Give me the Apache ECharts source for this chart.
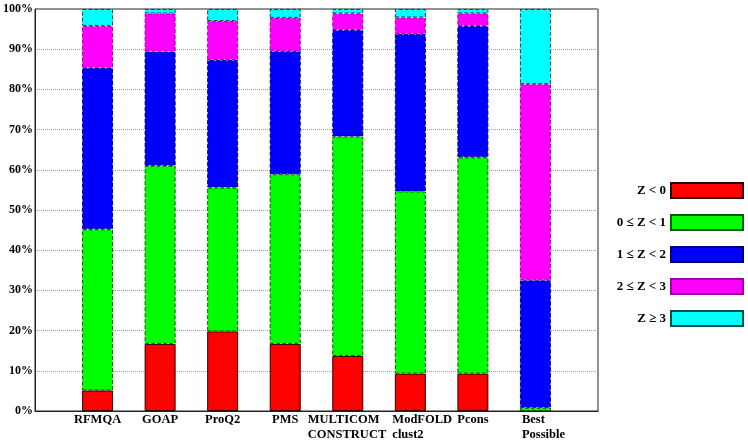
<!DOCTYPE html>
<html><head><meta charset="utf-8">
<script src="https://cdn.jsdelivr.net/npm/echarts@6/dist/echarts.min.js"></script>
<style>html,body{margin:0;padding:0;background:#fff}#c{width:748px;height:442px}</style>
</head><body><div id="c"></div>
<script>
const categories = ['', 'RFMQA', 'GOAP', 'ProQ2', 'PMS', 'MULTICOM\nCONSTRUCT', 'ModFOLD\nclust2', 'Pcons', 'Best\nPossible', ''];
const seriesNames = ['Z < 0', '0 \u2264 Z < 1', '1 \u2264 Z < 2', '2 \u2264 Z < 3', 'Z \u2265 3'];
const zNeg  = [null, 5.1, 16.7, 19.8, 16.7, 13.7, 9.3, 9.3, 0, null];
const z0to1 = [null, 40.1, 44.3, 35.8, 42.2, 54.6, 45.3, 53.8, 0.8, null];
const z1to2 = [null, 40.2, 28.4, 31.7, 30.6, 26.5, 39.2, 32.7, 31.7, null];
const z2to3 = [null, 10.4, 9.5, 9.7, 8.3, 4.1, 4.1, 3.1, 48.8, null];
const z3up  = [null, 4.2, 1.1, 3.0, 2.2, 1.1, 2.1, 1.1, 18.7, null];
const yTicks = [0, 10, 20, 30, 40, 50, 60, 70, 80, 90, 100];

const fills = ['#ff0000', '#00ff00', '#0000ff', '#ff00ff', '#00ffff'];
const borders = ['#300000', '#006000', '#000070', '#a000a0', '#005050'];
const borderTypes = ['solid', 'dashed', 'dashed', 'dashed', 'dashed'];
const allData = [zNeg, z0to1, z1to2, z2to3, z3up];
const font = 'Liberation Serif';

const chart = echarts.init(document.getElementById('c'), null, {renderer: 'canvas'});
chart.setOption({
  animation: false,
  backgroundColor: '#fff',
  grid: {left: 35, right: 150, top: 9, bottom: 31, show: true, borderColor: '#222', borderWidth: 1,
         containLabel: false, outerBoundsMode: 'none'},
  legend: {
    orient: 'vertical', right: 4, top: 182, align: 'right', padding: 0,
    icon: 'rect',
    itemWidth: 72, itemHeight: 15, itemGap: 15,
    textStyle: {fontFamily: font, fontWeight: 'bold', fontSize: 13, color: '#000', lineHeight: 15},
    data: seriesNames
  },
  xAxis: {
    type: 'category', data: categories, boundaryGap: false,
    axisLine: {lineStyle: {color: '#222'}}, axisTick: {show: false},
    axisLabel: {
      interval: 0, margin: 2, color: '#000', fontFamily: font, fontWeight: 'bold', fontSize: 12.5,
      lineHeight: 14.5,
      formatter: function (v) {
        if (v === 'MULTICOM\nCONSTRUCT') return '{m|MULTICOM}\n{m|CONSTRUCT}';
        if (v === 'ModFOLD\nclust2') return '{f|ModFOLD}\n{f|clust2}';
        if (v === 'Best\nPossible') return '{b|Best}\n{b|Possible}';
        return v;
      },
      rich: {
        m: {width: 80, align: 'left', fontFamily: font, fontWeight: 'bold', fontSize: 12.5, color: '#000', lineHeight: 14.5},
        f: {width: 36, align: 'left', fontFamily: font, fontWeight: 'bold', fontSize: 12.5, color: '#000', lineHeight: 14.5},
        b: {width: 27, align: 'left', fontFamily: font, fontWeight: 'bold', fontSize: 12.5, color: '#000', lineHeight: 14.5}
      }
    },
    splitLine: {show: false}
  },
  yAxis: {
    type: 'value', min: yTicks[0], max: yTicks[yTicks.length - 1], interval: 10,
    axisLine: {show: true, lineStyle: {color: '#222'}}, axisTick: {show: false},
    axisLabel: {margin: 2, color: '#000', fontFamily: font, fontWeight: 'bold', fontSize: 12, formatter: '{value}%'},
    splitLine: {show: true, lineStyle: {color: '#999', type: 'dotted', width: 1}}
  },
  series: seriesNames.map((n, i) => ({
    name: n, type: 'bar', stack: 'all', barWidth: 31,
    data: allData[i],
    itemStyle: {color: fills[i], borderColor: borders[i], borderWidth: 1, borderType: borderTypes[i]}
  }))
});
</script></body></html>
